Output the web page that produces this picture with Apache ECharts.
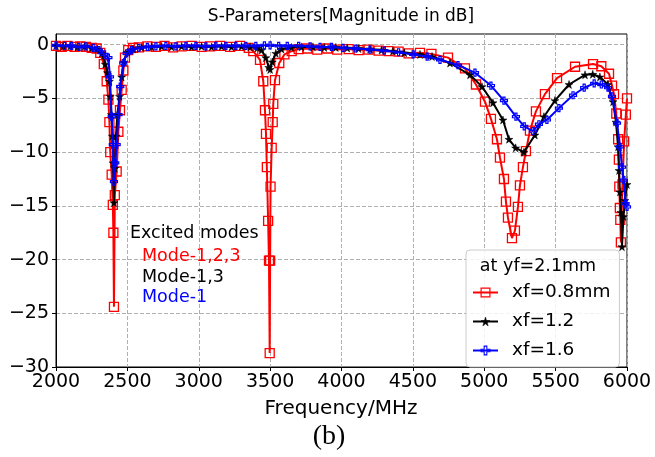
<!DOCTYPE html>
<html><head><meta charset="utf-8">
<script src="https://cdn.jsdelivr.net/npm/echarts@6/dist/echarts.min.js"></script>
<style>html,body{margin:0;padding:0;background:#fff}#c{width:655px;height:457px}</style>
</head><body><div id="c"></div>
<script>
const xTicks = [2000,2500,3000,3500,4000,4500,5000,5500,6000];
const yTicks = [-30,-25,-20,-15,-10,-5,0];

const redF = [2000,2040,2080,2130,2170,2210,2250,2285,2310,2335,2355,2367,2374,2380,2390,2398,2402,2406,2412,2425,2437,2448,2460,2472,2483,2506,2540,2580,2640,2700,2760,2820,2880,2950,3020,3080,3150,3220,3290,3350,3382,3429,3452,3464,3471,3477,3486,3492,3497,3500,3503,3511,3518,3522,3534,3564,3600,3651,3700,3760,3830,3900,3970,4050,4120,4190,4260,4330,4400,4470,4550,4630,4746,4865,4942,5005,5047,5089,5110,5138,5152,5166,5194,5215,5236,5250,5271,5292,5320,5362,5425,5510,5636,5762,5820,5874,5895,5909,5925,5938,5943,5946,5950,5953,5957,5968,5980,5992,6000];
const redDb = [-0.1,-0.2,-0.1,-0.2,-0.15,-0.2,-0.3,-0.35,-0.75,-1.8,-3.4,-5.1,-7.2,-10.0,-12.1,-14.9,-17.5,-24.4,-14.0,-11.8,-8.1,-6.1,-4.2,-2.4,-1.2,-0.5,-0.3,-0.25,-0.15,-0.2,-0.1,-0.25,-0.15,-0.1,-0.2,-0.15,-0.1,-0.2,-0.1,-0.3,-0.6,-1.4,-3.4,-6.1,-8.3,-11.4,-16.4,-20.1,-28.7,-20.1,-13.2,-9.6,-7.2,-5.5,-3.3,-1.7,-0.9,-0.6,-0.4,-0.35,-0.45,-0.35,-0.45,-0.4,-0.5,-0.45,-0.55,-0.6,-0.65,-0.8,-0.75,-0.85,-1.2,-2.2,-3.7,-5.3,-6.9,-8.8,-10.5,-12.5,-14.6,-16.1,-18.0,-17.3,-15.1,-13.1,-11.4,-9.9,-8.0,-6.2,-4.6,-3.1,-2.05,-1.8,-2.0,-2.7,-3.8,-4.6,-6.4,-8.8,-10.7,-13.2,-15.2,-16.3,-18.4,-13.0,-9.0,-6.5,-5.0];

const blackF = [2000,2050,2100,2150,2200,2250,2290,2320,2345,2360,2374,2380,2388,2395,2400,2406,2412,2420,2430,2445,2460,2475,2500,2540,2600,2670,2740,2810,2880,2950,3020,3090,3160,3230,3300,3360,3410,3440,3470,3490,3500,3515,3540,3580,3650,3720,3800,3880,3960,4040,4120,4200,4280,4360,4440,4550,4634,4760,4900,4984,5061,5131,5173,5220,5278,5355,5418,5495,5594,5706,5760,5810,5867,5902,5923,5937,5944,5950,5958,5965,5975,5985,6000];
const blackDb = [-0.1,-0.15,-0.1,-0.2,-0.15,-0.3,-0.4,-0.8,-1.8,-2.6,-3.4,-4.8,-6.5,-8.5,-11.0,-14.7,-11.5,-8.5,-6.5,-4.8,-3.0,-1.6,-0.7,-0.4,-0.25,-0.2,-0.15,-0.2,-0.15,-0.2,-0.15,-0.2,-0.15,-0.2,-0.15,-0.2,-0.3,-0.5,-1.2,-2.1,-2.3,-1.6,-0.8,-0.4,-0.25,-0.2,-0.2,-0.25,-0.25,-0.3,-0.35,-0.4,-0.5,-0.6,-0.75,-0.9,-1.1,-1.7,-2.8,-3.9,-5.4,-7.0,-8.8,-9.6,-10.0,-8.4,-6.7,-5.2,-3.7,-2.8,-2.75,-3.0,-3.7,-5.3,-7.2,-9.5,-11.7,-13.7,-15.6,-18.8,-16.0,-14.5,-13.0];

const blueF = [2000,2060,2110,2160,2210,2260,2300,2340,2367,2378,2390,2398,2406,2415,2425,2438,2450,2471,2495,2530,2580,2640,2700,2770,2840,2910,2980,3050,3120,3190,3260,3330,3400,3460,3500,3560,3620,3700,3780,3850,3930,4010,4100,4200,4300,4400,4502,4600,4690,4816,4935,5047,5138,5222,5280,5340,5383,5439,5523,5622,5700,5770,5820,5867,5895,5930,5951,5965,5978,5990,6000];
const blueDb = [-0.05,-0.1,-0.1,-0.2,-0.15,-0.3,-0.5,-0.9,-1.2,-3.0,-6.7,-9.3,-12.75,-11.0,-9.3,-6.5,-3.9,-1.7,-0.8,-0.5,-0.3,-0.2,-0.15,-0.1,-0.15,-0.1,-0.1,-0.15,-0.1,-0.1,-0.1,-0.1,-0.1,-0.05,-0.05,-0.1,-0.1,-0.1,-0.15,-0.2,-0.2,-0.3,-0.35,-0.45,-0.55,-0.7,-0.9,-1.1,-1.4,-1.9,-2.6,-3.8,-5.2,-6.7,-7.6,-8.05,-7.4,-7.0,-5.9,-4.7,-4.0,-3.6,-3.7,-4.0,-4.8,-7.3,-9.5,-11.4,-12.6,-14.8,-15.1];

const seriesNames = ['xf=0.8mm','xf=1.2','xf=1.6'];
const modeLabels = ['Mode-1,2,3','Mode-1,3','Mode-1'];

const zip = (a,b) => a.map((v,i)=>[v,b[i]]);
const STAR = 'path://M50,0 L61,35 L98,35 L68,57 L79,91 L50,70 L21,91 L32,57 L2,35 L39,35 Z';
const PLUS = 'path://M35,0 H65 V35 H100 V65 H65 V100 H35 V65 H0 V35 H35 Z';
const FONT = 'DejaVu Sans';
const minus = v => String(v).replace('-', '\u2212');

const chart = echarts.init(document.getElementById('c'), null, {renderer:'canvas'});
chart.setOption({
  animation: false,
  backgroundColor: '#ffffff',
  grid: {left: 56, right: 28, top: 34, bottom: 90, show: true, borderColor: '#000', borderWidth: 1, backgroundColor: 'transparent'},
  xAxis: {
    type: 'value', min: 2000, max: 6000, interval: 500,
    axisLine: {show: true, onZero: false, lineStyle: {color: '#000', width: 1}},
    axisTick: {show: true, length: 4, lineStyle: {color: '#000'}},
    axisLabel: {color: '#000', fontSize: 19, fontFamily: FONT, margin: 6, showMinLabel: true, showMaxLabel: true, formatter: v => String(v)},
    splitLine: {show: true, lineStyle: {color: '#b0b0b0', type: [4, 2], width: 1}}
  },
  yAxis: {
    type: 'value', min: -30, max: 1, interval: 5,
    axisLine: {show: true, onZero: false, lineStyle: {color: '#000', width: 1}},
    axisTick: {show: true, length: 4, lineStyle: {color: '#000'}, customValues: yTicks},
    axisLabel: {color: '#000', fontSize: 19, fontFamily: FONT, margin: 7, customValues: yTicks, formatter: v => minus(v)},
    splitLine: {show: true, lineStyle: {color: '#b0b0b0', type: [4, 2], width: 1}}
  },
  legend: {
    orient: 'vertical', left: 466, top: 250, padding: [33, 9, 7, 6],
    itemWidth: 25, itemHeight: 11, itemGap: 10, selectedMode: false,
    textStyle: {fontSize: 18.5, fontFamily: FONT, color: '#000', lineHeight: 18, padding: [0,0,0,9]},
    backgroundColor: 'rgba(255,255,255,0.85)', borderColor: '#cccccc', borderWidth: 1, borderRadius: 4,
    data: [
      {name: seriesNames[0], itemStyle: {borderWidth: 1.2}},
      {name: seriesNames[1], itemStyle: {borderWidth: 0.5}},
      {name: seriesNames[2], itemStyle: {borderWidth: 1.1}}
    ]
  },
  series: [
    {type: 'line', name: seriesNames[0], data: zip(redF, redDb), symbol: 'rect', symbolSize: 9, showAllSymbol: true, z: 2,
     lineStyle: {color: '#ff0000', width: 2}, itemStyle: {color: 'rgba(255,255,255,0)', borderColor: '#ff0000', borderWidth: 1.3}, emphasis: {disabled: true}},
    {type: 'line', name: seriesNames[1], data: zip(blackF, blackDb), symbol: STAR, symbolSize: 8, showAllSymbol: true, z: 3,
     lineStyle: {color: '#000000', width: 2}, itemStyle: {color: '#000000', borderColor: '#000000', borderWidth: 0.5}, emphasis: {disabled: true}},
    {type: 'line', name: seriesNames[2], data: zip(blueF, blueDb), symbol: PLUS, symbolSize: 7, showAllSymbol: true, z: 4,
     lineStyle: {color: '#0000ff', width: 2}, itemStyle: {color: 'rgba(255,255,255,0)', borderColor: '#0000ff', borderWidth: 1.2}, emphasis: {disabled: true}}
  ],
  graphic: [
    {type: 'text', z: 100, style: {text: 'S-Parameters[Magnitude in dB]', x: 341, y: 17, textAlign: 'center', textVerticalAlign: 'middle', font: '17px "DejaVu Sans"', fill: '#000'}},
    {type: 'text', z: 100, style: {text: 'Frequency/MHz', x: 341, y: 409, textAlign: 'center', textVerticalAlign: 'middle', font: '20px "DejaVu Sans"', fill: '#000'}},
    {type: 'text', z: 100, style: {text: '(b)', x: 329, y: 437, textAlign: 'center', textVerticalAlign: 'middle', font: '28px "Liberation Serif"', fill: '#000'}},
    {type: 'text', z: 100, style: {text: 'Excited modes', x: 130, y: 233, textAlign: 'left', textVerticalAlign: 'middle', font: '17.5px "DejaVu Sans"', fill: '#000'}},
    {type: 'text', z: 100, style: {text: modeLabels[0], x: 142, y: 256, textAlign: 'left', textVerticalAlign: 'middle', font: '17.5px "DejaVu Sans"', fill: '#ff0000'}},
    {type: 'text', z: 100, style: {text: modeLabels[1], x: 142, y: 277, textAlign: 'left', textVerticalAlign: 'middle', font: '17.5px "DejaVu Sans"', fill: '#000000'}},
    {type: 'text', z: 100, style: {text: modeLabels[2], x: 142, y: 297, textAlign: 'left', textVerticalAlign: 'middle', font: '17.5px "DejaVu Sans"', fill: '#0000ff'}},
    {type: 'text', z: 100, style: {text: 'at yf=2.1mm', x: 538, y: 266, textAlign: 'center', textVerticalAlign: 'middle', font: '17.5px "DejaVu Sans"', fill: '#000'}}
  ]
});
</script></body></html>
